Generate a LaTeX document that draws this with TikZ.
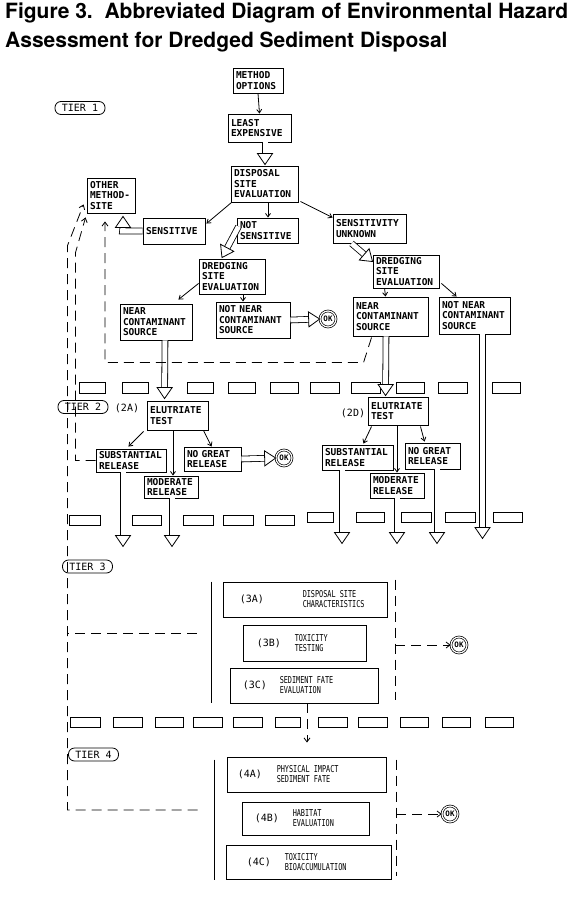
\documentclass[tikz,border=0pt]{standalone}
\usepackage{fontspec}
\setmainfont{TeX Gyre Heros}
\newfontfamily\dvmono{DejaVu Sans Mono}
\newfontfamily\dvcond[FakeStretch=0.72]{DejaVu Sans Mono}
\usetikzlibrary{calc,arrows.meta}
\newcommand\bxfont{\dvmono\bfseries\fontsize{9.5}{10.5}\selectfont}
\newcommand\lblfont{\dvmono\fontsize{10}{11}\selectfont}
\newcommand\cndfont{\dvcond\fontsize{9.5}{10}\selectfont}
\newcommand\tierfont{\dvmono\fontsize{10}{11}\selectfont}
\newcommand\okfont{\dvmono\bfseries\fontsize{7.5}{8}\selectfont}
\newcommand\fatarrow[2]{%
  \coordinate (fhb) at ($(#2)!11pt!(#1)$);
  \coordinate (fhs) at ($(#2)!10pt!(#1)$);
  \draw[fatshaft] (#1) -- (fhs);
  \draw[fathd] ($(fhb)!7.5pt!90:(#2)$) -- (#2) -- ($(fhb)!7.5pt!-90:(#2)$) -- cycle;}
\newcommand\fathead[2]{%
  \coordinate (fhb) at ($(#2)!11pt!(#1)$);
  \draw[fathd] ($(fhb)!7.5pt!90:(#2)$) -- (#2) -- ($(fhb)!7.5pt!-90:(#2)$) -- cycle;}
\begin{document}
\begin{tikzpicture}[x=1pt,y=-1pt,
  bx/.style 2 args={draw, line width=0.9pt, font=\bxfont, align=left, inner xsep=3pt, inner ysep=1pt, text width=#1, minimum height=#2},
  bigbx/.style 2 args={draw, line width=0.9pt, minimum width=#1, minimum height=#2, inner sep=0pt},
  tier/.style={draw, rounded corners=6pt, line width=0.8pt, font=\tierfont, inner sep=0pt, minimum width=50pt, minimum height=13pt},
  okc/.style={circle, draw, double, double distance=1.2pt, line width=0.7pt, inner sep=0pt, minimum size=16pt, font=\okfont},
  fatshaft/.style={double, double distance=5pt, line width=0.8pt},
  fathd/.style={draw, fill=white, line width=0.8pt, line join=miter},
  ar/.style={-{Straight Barb[length=3.5pt,width=5pt]}, line width=0.8pt},
  dsh/.style={dash pattern=on 10pt off 6pt, line width=0.8pt},
  dar/.style={dsh, -{Straight Barb[length=4pt,width=6pt]}},
  sepbox/.style={draw, line width=1pt},
  lbl/.style={font=\lblfont, inner sep=0pt},
  cnd/.style={font=\cndfont, inner sep=0pt, align=left, anchor=west}]
\useasboundingbox (0,0) rectangle (576,917);
\fill[white] (0,0) rectangle (576,917);

% title
\node[anchor=base west, inner sep=0pt, font=\bfseries\fontsize{21}{24}\selectfont] (title1) at (5,18.5) {Figure 3.\ \ Abbreviated Diagram of Environmental Hazard};
\node[anchor=base west, inner sep=0pt, font=\bfseries\fontsize{21}{24}\selectfont] (title2) at (5,48) {Assessment for Dredged Sediment Disposal};

% tier labels
\node[tier] (t1) at (80,108) {TIER 1};
\node[tier] (t2) at (83,407) {TIER 2};
\node[tier] (t3) at (87.5,566.5) {TIER 3};
\node[tier] (t4) at (93.5,754.5) {TIER 4};

% tier 1 boxes
\node[bx={44pt}{25pt}] (mo) at (258,80.5) {METHOD\\OPTIONS};
\node[bx={57pt}{28pt}] (le) at (259.5,128) {LEAST\\EXPENSIVE};
\node[bx={61pt}{36pt}] (dse) at (264.5,184) {DISPOSAL\\SITE\\EVALUATION};
\node[bx={42pt}{35pt}] (oth) at (111,195.5) {OTHER\\METHOD-\\SITE};
\node[bx={56pt}{26pt}] (sen) at (174,231) {SENSITIVE};
\node[bx={55pt}{25pt}] (ns) at (267.5,230.5) {NOT\\SENSITIVE};
\node[bx={67pt}{29pt}] (su) at (369.5,228.5) {SENSITIVITY\\UNKNOWN};
\node[bx={60pt}{35pt}] (dl) at (232,276.5) {DREDGING\\SITE\\EVALUATION};
\node[bx={60pt}{33pt}] (dr) at (406,271.5) {DREDGING\\SITE\\EVALUATION};
\node[bx={66pt}{36pt}] (nl) at (156,322) {NEAR\\CONTAMINANT\\SOURCE};
\node[bx={68pt}{36pt}] (nnl) at (253,320) {NOT NEAR\\CONTAMINANT\\SOURCE};
\node[bx={69pt}{39pt}] (nr) at (390.5,316.5) {NEAR\\CONTAMINANT\\SOURCE};
\node[bx={65pt}{37pt}] (nnr) at (474.5,315.5) {NOT NEAR\\CONTAMINANT\\SOURCE};
\node[okc] (okA) at (328,319) {OK};

% tier 2 boxes
\node[lbl] (l2a) at (127,408) {(2A)};
\node[bx={55pt}{29pt}] (etl) at (177.5,415.5) {ELUTRIATE\\TEST};
\node[bx={64pt}{23pt}] (sl) at (131,460.5) {SUBSTANTIAL\\RELEASE};
\node[bx={51pt}{24pt}] (ngl) at (212.5,459) {NO GREAT\\RELEASE};
\node[bx={48pt}{22pt}] (mdl) at (171,487) {MODERATE\\RELEASE};
\node[okc] (okB) at (284,458) {OK};
\node[lbl] (l2d) at (353,413) {(2D)};
\node[bx={54pt}{28pt}] (etr) at (398,411) {ELUTRIATE\\TEST};
\node[bx={65pt}{25pt}] (sr) at (357.5,457.5) {SUBSTANTIAL\\RELEASE};
\node[bx={49pt}{26pt}] (ngr) at (432.5,456) {NO GREAT\\RELEASE};
\node[bx={48pt}{25pt}] (mdr) at (397,485.5) {MODERATE\\RELEASE};

% tier 3 boxes
\node[bigbx={164pt}{35pt}] (b3a) at (305,599.5) {};
\node[lbl, anchor=west] (b3al) at ($(b3a.west)+(17,0)$) {(3A)};
\node[cnd] (b3at) at ($(b3a.west)+(80,0)$) {DISPOSAL SITE\\CHARACTERISTICS};
\node[bigbx={123pt}{36pt}] (b3b) at (304.5,643) {};
\node[lbl, anchor=west] (b3bl) at ($(b3b.west)+(14,0)$) {(3B)};
\node[cnd] (b3bt) at ($(b3b.west)+(52,0)$) {TOXICITY\\TESTING};
\node[bigbx={148pt}{35pt}] (b3c) at (304,685.5) {};
\node[lbl, anchor=west] (b3cl) at ($(b3c.west)+(13,0)$) {(3C)};
\node[cnd] (b3ct) at ($(b3c.west)+(50,0)$) {SEDIMENT FATE\\EVALUATION};
\node[okc] (okC) at (459,645) {OK};

% tier 4 boxes
\node[bigbx={159pt}{35pt}] (b4a) at (306.5,774.5) {};
\node[lbl, anchor=west] (b4al) at ($(b4a.west)+(11,0)$) {(4A)};
\node[cnd] (b4at) at ($(b4a.west)+(50,0)$) {PHYSICAL IMPACT\\SEDIMENT FATE};
\node[bigbx={127pt}{33pt}] (b4b) at (305.5,818.5) {};
\node[lbl, anchor=west] (b4bl) at ($(b4b.west)+(13,0)$) {(4B)};
\node[cnd] (b4bt) at ($(b4b.west)+(51,0)$) {HABITAT\\EVALUATION};
\node[bigbx={165pt}{34pt}] (b4c) at (308.5,862) {};
\node[lbl, anchor=west] (b4cl) at ($(b4c.west)+(21,0)$) {(4C)};
\node[cnd] (b4ct) at ($(b4c.west)+(59,0)$) {TOXICITY\\BIOACCUMULATION};
\node[okc] (okD) at (450,814) {OK};

% separators (tier borders drawn as rows of boxes)
\foreach \a/\b in {79/105,122/148,187/213,228/255,270/298,310/339,351/380,396/424,438/467,492/520}
  \draw[sepbox] (\a,382) rectangle (\b,393);
\foreach \a/\b in {69/100,132/161,183/213,223/253,265/294}
  \draw[sepbox] (\a,515) rectangle (\b,525);
\foreach \a/\b in {307/333,356/384,401/431,445/475,493/522}
  \draw[sepbox] (\a,512) rectangle (\b,522);
\foreach \a/\b in {70/100,113/142,155/183,193/222,233/262,275/300,318/347,358/387,400/428,442/470,485/513}
  \draw[sepbox] (\a,717) rectangle (\b,727);

% thin arrows
\draw[ar] (mo.south) -- (le.north);
\draw[ar] ($(dse.south west)+(1,0)$) -- ($(sen.north east)+(1,6)$);
\draw[ar] ($(dse.south)+(3.5,0)$) -- ($(ns.north)+(0.5,0)$);
\draw[ar] ($(dse.south east)+(2,-1)$) -- ($(su.north west)+(0,4)$);
\draw[ar] ($(dl.south west)+(0,-11)$) -- ($(nl.north east)+(-14,-4)$);
\draw[ar] ($(dl.south)+(11,0)$) -- ($(nnl.north)+(-10,0)$);
\draw[ar] ($(dr.south west)+(12,0)$) -- ($(nr.north west)+(33,0)$);
\draw[ar] ($(dr.south east)+(2,-5)$) -- ($(nnr.north west)+(18,0)$);
\draw[ar] ($(etl.south west)+(-3,1)$) -- ($(sl.north east)+(-38,-2)$);
\draw[ar] ($(etl.south)+(-4.5,0)$) -- ($(mdl.north)+(2,0)$);
\draw[ar] ($(etl.south east)+(-5,0)$) -- ($(ngl.north west)+(28,0)$);
\draw[ar] ($(etr.south west)+(4,1)$) -- ($(sr.north east)+(-30,-1)$);
\draw[ar] ($(etr.south)+(-1,0)$) -- (mdr.north);
\draw[ar] ($(etr.south east)+(-8,1)$) -- ($(ngr.north west)+(20,-1)$);

% fat hollow arrows
\coordinate (f1s) at ($(le.south)+(5.5,0)$);
\coordinate (f1e) at ($(dse.north)+(0.5,-1)$);
\fatarrow{f1s}{f1e}
% elbow arrow from SENSITIVE up into OTHER METHOD-SITE
\coordinate (f2e) at ($(oth.south)+(12,3)$);
\coordinate (f2c) at ($(sen.west)+(-20,0)$);
\coordinate (f2b) at ($(f2e)+(0,30)$);
\coordinate (f2t) at ($(f2e)+(0,10)$);
\draw[fatshaft] (sen.west) -- (f2c) -- (f2t);
\fathead{f2b}{f2e}
\coordinate (f3s) at ($(ns.west)+(2,-4)$);
\coordinate (f3e) at ($(dl.north)+(-10,-1)$);
\fatarrow{f3s}{f3e}
\coordinate (f4s) at ($(su.south west)+(19,0)$);
\coordinate (f4e) at ($(dr.north west)+(0,7)$);
\fatarrow{f4s}{f4e}
\fatarrow{nnl.east}{okA.west}
\coordinate (f6s) at ($(nl.south)+(9,0)$);
\coordinate (f6e) at ($(etl.north west)+(18,-2)$);
\fatarrow{f6s}{f6e}
\coordinate (f7s) at ($(nr.south)+(-4.5,0)$);
\coordinate (f7e) at ($(etr.north west)+(18,-1)$);
\fatarrow{f7s}{f7e}
\coordinate (f8s) at ($(nnr.south)+(8,0)$);
\coordinate (f8e) at ($(nnr.south)+(8,204)$);
\fatarrow{f8s}{f8e}
\fatarrow{ngl.east}{okB.west}
\coordinate (f10s) at ($(sl.south)+(-8,0)$);
\coordinate (f10e) at ($(sl.south)+(-8,74)$);
\fatarrow{f10s}{f10e}
\coordinate (f11s) at ($(mdl.south)+(1,0)$);
\coordinate (f11e) at ($(mdl.south)+(1,48)$);
\fatarrow{f11s}{f11e}
\coordinate (f12s) at ($(sr.south)+(-15.5,0)$);
\coordinate (f12e) at ($(sr.south)+(-15.5,73)$);
\fatarrow{f12s}{f12e}
\coordinate (f13s) at (mdr.south);
\coordinate (f13e) at ($(mdr.south)+(0,45)$);
\fatarrow{f13s}{f13e}
\coordinate (f14s) at ($(ngr.south)+(4.5,0)$);
\coordinate (f14e) at ($(ngr.south)+(4.5,74)$);
\fatarrow{f14s}{f14e}

% tier 3 / tier 4 brackets
\draw[line width=0.8pt] ($(b3a.north west)+(-11,0)$) -- ($(b3c.south west)+(-18,0)$);
\draw[dsh] ($(b3a.north east)+(8,-2)$) -- ($(b3c.south east)+(17,-3)$);
\coordinate (g3r) at ($(b3b.east)+(29,2)$);
\draw[dar] (g3r) -- (okC.west);
\draw[line width=0.8pt] ($(b4a.north west)+(-12,3)$) -- ($(b4c.south west)+(-11,1)$);
\draw[dsh] ($(b4a.north east)+(10,3)$) -- ($(b4c.south east)+(5,-3)$);
\coordinate (g4r) at ($(b4b.east)+(27,-4.5)$);
\draw[dar] (g4r) -- (okD.west);
\draw[dar] ($(b3c.south)+(3,0)$) -- ($(b4a.north)+(0.5,-14)$);

% dashed return paths to OTHER METHOD-SITE
\draw[dar] ($(nr.south west)+(19,1)$) -- ++(-8,25) -| ($(oth.south)+(-6,8)$);
\draw[dar] (sl.west) -| ($(oth.south west)+(-11,39)$) -- ($(oth.south west)+(-1,4)$);
\coordinate (g4l) at ($(b4b.west)+(-44,-8.5)$);
\draw[dar] (g4l) -| ($(oth.south west)+(-19,32)$) -- ($(oth.south west)+(-3,-9)$);
\coordinate (g3l) at ($(b3b.west)+(-46,-10)$);
\coordinate (g3m) at ($(b3b.west)+(-175,-10)$);
\draw[dsh] (g3l) -- (g3m);
\end{tikzpicture}
\end{document}
